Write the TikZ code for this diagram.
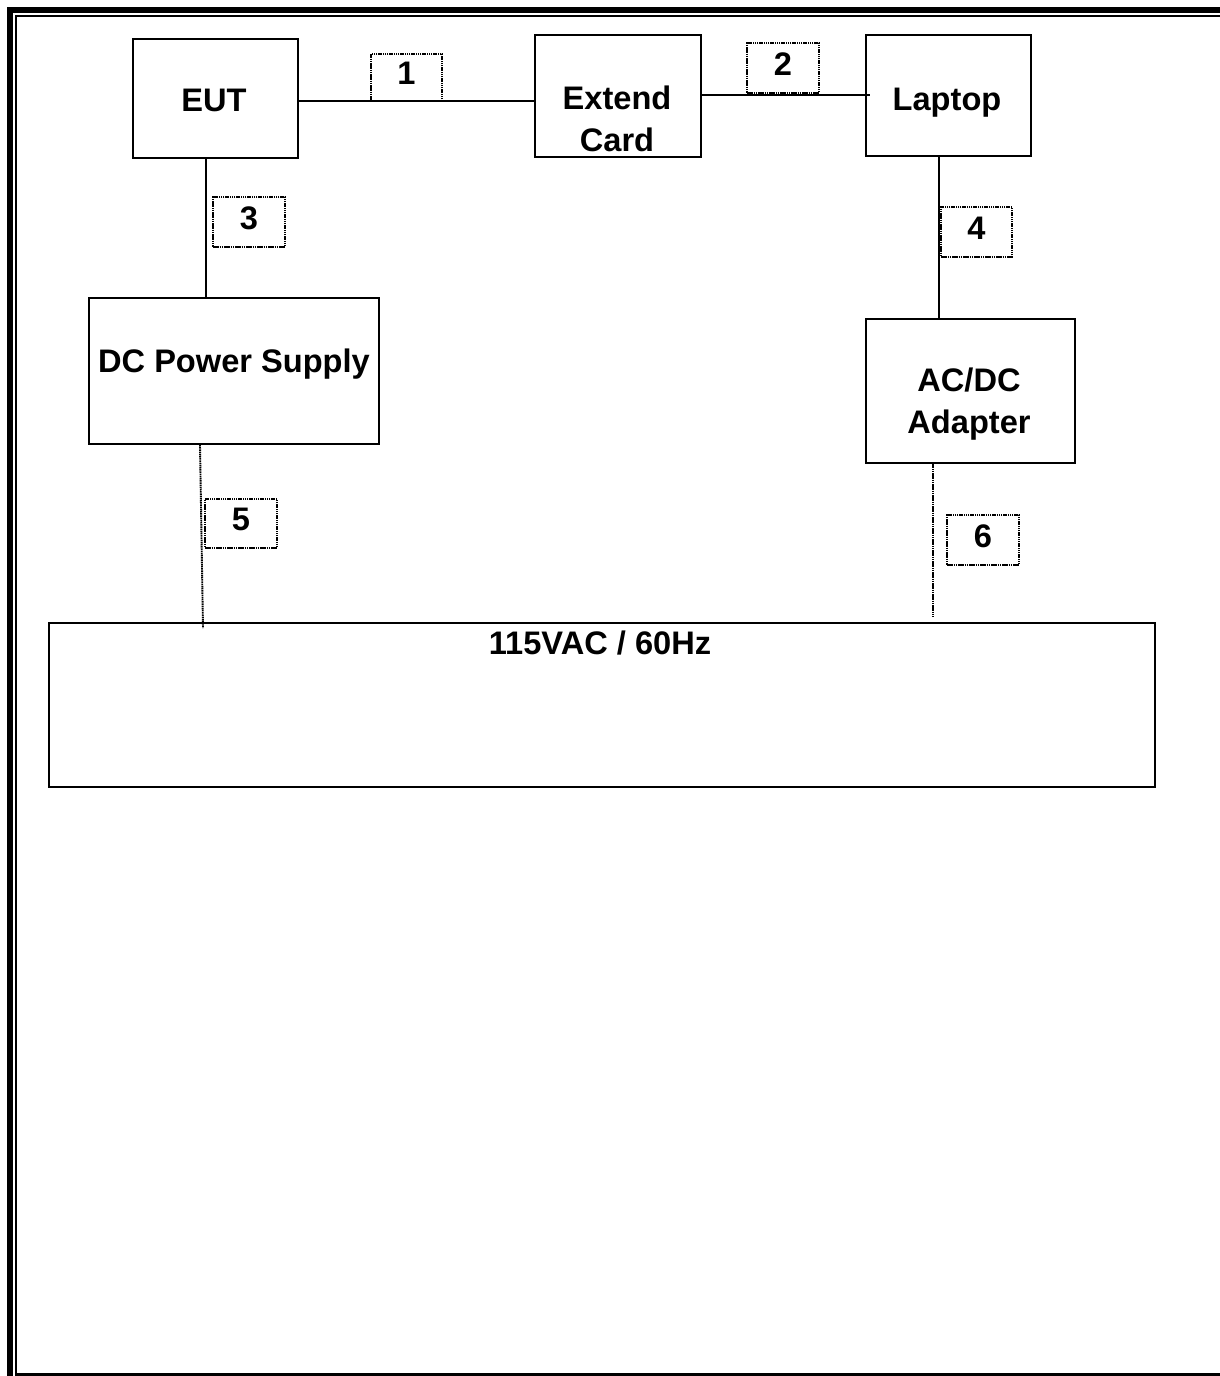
\documentclass[tikz,border=0pt]{standalone}
\usepackage{fontspec}
\setmainfont{Liberation Sans}
\begin{document}
\begin{tikzpicture}[x=1pt,y=-1pt,
  box/.style={draw,line width=2.4pt,inner sep=0pt},
  tag/.style={draw,line width=1.8pt,dash pattern=on 1.5pt off 0.7pt,inner sep=0pt,
     font=\fontsize{32.6}{38}\selectfont\bfseries,text depth=8pt},
  txt/.style={font=\fontsize{32.6}{42}\selectfont\bfseries,inner sep=0pt,anchor=base,align=center},
  wire/.style={line width=2.2pt},
  dwire/.style={line width=1.9pt,dash pattern=on 1.5pt off 0.7pt}]
\useasboundingbox (0,0) rectangle (1220,1376);
% page frame
\draw[line width=6pt] (10,1376) -- (10,10) -- (1220,10);
\draw[line width=2pt] (15.5,1376) -- (15.5,15.5) -- (1220,15.5);
\draw[line width=2.5pt] (15,1374.5) -- (1220,1374.5);
% boxes
\node[box,minimum width=165pt,minimum height=119pt] (eut) at (215.5,98.5) {};
\node[box,minimum width=166pt,minimum height=122pt] (ext) at (618,96) {};
\node[box,minimum width=165pt,minimum height=121pt] (lap) at (948.5,95.5) {};
\node[box,minimum width=290pt,minimum height=146pt] (dc) at (234,371) {};
\node[box,minimum width=209pt,minimum height=144pt] (ac) at (970.5,391) {};
\node[box,minimum width=1106pt,minimum height=164pt] (mains) at (602,705) {};
% texts
\node[txt] (teut) at (214,111.5) {EUT};
\node[txt] (text) at (617,151.5) {Extend\\Card};
\node[txt] (tlap) at (947,110.5) {Laptop};
\node[txt] (tdc) at (234,372.5) {DC Power Supply};
\node[txt] (tac) at (969,433.5) {AC/DC\\Adapter};
\node[txt] (tmains) at (600,654.5) {115VAC / 60Hz};
% connectors
\coordinate (x3) at (206,0);
\coordinate (x4) at (939,0);
\coordinate (x6) at (933,0);
\coordinate (c5a) at (200,445);
\coordinate (c5b) at (203,628);
\coordinate (c6b) at (933,617);
\draw[wire] (eut.east |- 0,101) -- (ext.west |- 0,101);
\draw[wire] (ext.east |- 0,95) -- (870,95);
\draw[wire] (eut.south -| x3) -- (dc.north -| x3);
\draw[wire] (lap.south -| x4) -- (ac.north -| x4);
\draw[dwire] (c5a) -- (c5b);
\draw[dwire] (ac.south -| x6) -- (c6b);
% tags
\node[tag,minimum width=71pt,minimum height=47pt] (t1) at (406.5,77.5) {1};
\node[tag,minimum width=72pt,minimum height=50pt] (t2) at (783,68) {2};
\node[tag,minimum width=72pt,minimum height=50pt] (t3) at (249,222) {3};
\node[tag,minimum width=71pt,minimum height=50pt] (t4) at (976.5,232) {4};
\node[tag,minimum width=72pt,minimum height=49pt] (t5) at (241,523.5) {5};
\node[tag,minimum width=72pt,minimum height=50pt] (t6) at (983,540) {6};
\end{tikzpicture}
\end{document}
